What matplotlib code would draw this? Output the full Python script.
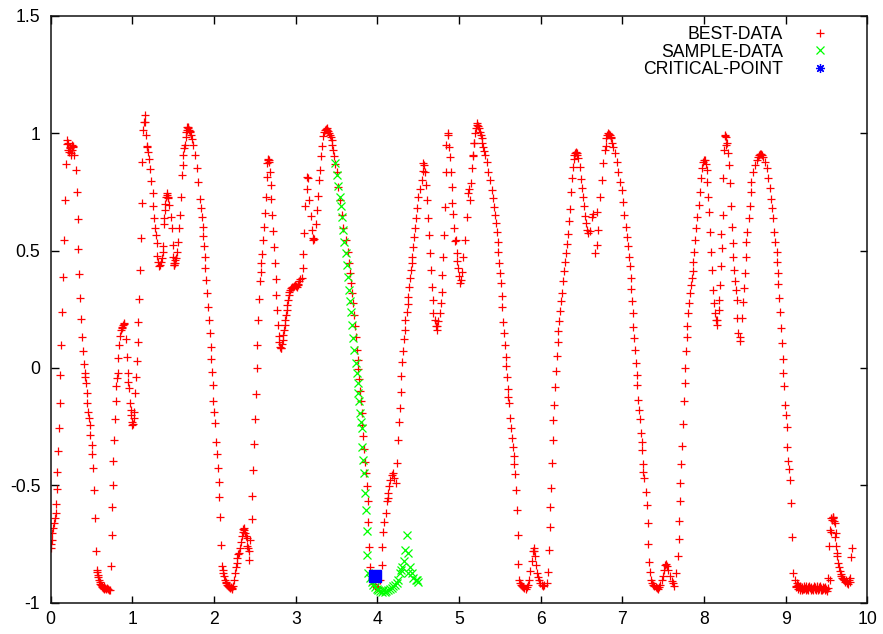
import matplotlib
matplotlib.use("Agg")
import matplotlib.pyplot as plt
from matplotlib.lines import Line2D

plt.rcParams['font.family'] = ['Liberation Sans', 'DejaVu Sans']
plt.rcParams['font.size'] = 12.7

# ---- BEST-DATA, one list of (x, y) points per hump ----
best_a = [(0.004,-0.768),(0.008,-0.752),(0.012,-0.733),(0.020,-0.702),(0.032,-0.680),(0.040,-0.662),
          (0.053,-0.640),(0.061,-0.620),(0.066,-0.580),(0.073,-0.517),(0.081,-0.442),(0.093,-0.355),
          (0.101,-0.257),(0.110,-0.148),(0.118,-0.030),(0.126,0.098),(0.143,0.239),(0.155,0.386),
          (0.167,0.545),(0.175,0.713),(0.183,0.868),(0.196,0.970),(0.204,0.955),(0.212,0.930),
          (0.216,0.956),(0.224,0.920),(0.232,0.935),(0.236,0.942),(0.245,0.905),(0.249,0.914),
          (0.257,0.949),(0.265,0.928),(0.270,0.945),(0.277,0.942),(0.290,0.905),(0.310,0.843),
          (0.322,0.751),(0.330,0.633),(0.338,0.507),(0.347,0.399),(0.355,0.297),(0.371,0.209),
          (0.379,0.131),(0.395,0.070),(0.408,0.016),(0.416,-0.020),(0.424,-0.037),(0.432,-0.065),
          (0.444,-0.108),(0.448,-0.151),(0.461,-0.186),(0.469,-0.215),(0.477,-0.243),(0.485,-0.285),
          (0.501,-0.328),(0.509,-0.366),(0.522,-0.427),(0.530,-0.519),(0.542,-0.640),(0.550,-0.778),
          (0.563,-0.860),(0.567,-0.870),(0.575,-0.881),(0.583,-0.892),(0.591,-0.902),(0.600,-0.911),
          (0.608,-0.919),(0.616,-0.925),(0.624,-0.930),(0.632,-0.933),(0.640,-0.936),(0.650,-0.931),
          (0.657,-0.940),(0.665,-0.937),(0.675,-0.943),(0.685,-0.939),(0.697,-0.941),(0.710,-0.946),
          (0.726,-0.944)]

best_b = [(0.738,-0.843),(0.746,-0.710),(0.754,-0.592),(0.759,-0.497),(0.767,-0.398),(0.775,-0.306),
          (0.787,-0.217),(0.795,-0.140),(0.803,-0.079),(0.812,-0.041),(0.820,-0.020),(0.828,0.041),
          (0.836,0.098),(0.848,0.134),(0.861,0.162),(0.869,0.170),(0.877,0.176),(0.886,0.182),
          (0.894,0.187),(0.902,0.193),(0.918,0.122),(0.930,0.048),(0.943,-0.020),(0.951,-0.060),
          (0.959,-0.084),(0.971,-0.148),(0.979,-0.180),(0.983,-0.201),(0.992,-0.229),(1.000,-0.243),
          (1.008,-0.238),(1.016,-0.215),(1.024,-0.186),(1.032,-0.105),(1.041,-0.040),(1.053,0.031),
          (1.065,0.109),(1.073,0.197),(1.085,0.292),(1.094,0.415),(1.106,0.552),(1.114,0.704),
          (1.122,0.876),(1.134,1.013),(1.143,1.049),(1.154,1.077),(1.160,1.048),(1.166,0.990),
          (1.175,0.942),(1.182,0.946),(1.194,0.918),(1.206,0.889),(1.222,0.846),(1.234,0.797),
          (1.247,0.744),(1.255,0.690),(1.267,0.640),(1.275,0.597),(1.287,0.568),(1.296,0.533),
          (1.304,0.476),(1.316,0.450),(1.329,0.434),(1.337,0.440),(1.345,0.452),(1.358,0.469),
          (1.370,0.495),(1.378,0.519),(1.386,0.615),(1.392,0.640),(1.398,0.671),(1.405,0.700),
          (1.412,0.728),(1.419,0.736),(1.425,0.745),(1.432,0.730),(1.439,0.722),(1.451,0.693),
          (1.468,0.643),(1.480,0.594),(1.492,0.523),(1.500,0.473),(1.505,0.445),(1.509,0.437),
          (1.515,0.440),(1.520,0.448),(1.528,0.458),(1.533,0.466),(1.549,0.494),(1.562,0.536),
          (1.574,0.594),(1.582,0.650),(1.590,0.729),(1.603,0.821),(1.615,0.864),(1.623,0.906),
          (1.636,0.935),(1.644,0.949),(1.652,0.985),(1.658,1.005),(1.664,1.013),(1.670,1.025),
          (1.677,1.022),(1.685,1.027),(1.693,1.015),(1.700,1.010),(1.705,1.006),(1.715,0.990),
          (1.725,0.977)]

best_c = [(1.746,0.950),(1.766,0.907),(1.787,0.850),(1.807,0.793),(1.828,0.718),(1.840,0.680),
          (1.848,0.642),(1.860,0.602),(1.869,0.562),(1.877,0.519),(1.885,0.474),(1.893,0.427),
          (1.901,0.375),(1.909,0.320),(1.922,0.261),(1.934,0.204),(1.950,0.147),(1.958,0.090),
          (1.966,0.036),(1.975,-0.016),(1.983,-0.073),(1.991,-0.141),(1.999,-0.186),(2.011,-0.233),
          (2.024,-0.314),(2.032,-0.366),(2.048,-0.427),(2.056,-0.484),(2.064,-0.548),(2.073,-0.637),
          (2.085,-0.753),(2.097,-0.843),(2.105,-0.860),(2.113,-0.874),(2.122,-0.888),(2.134,-0.902),
          (2.142,-0.910),(2.150,-0.918),(2.162,-0.924),(2.170,-0.928),(2.178,-0.931),(2.187,-0.933),
          (2.195,-0.938),(2.205,-0.935),(2.215,-0.942),(2.225,-0.936),(2.236,-0.928),(2.246,-0.905),
          (2.256,-0.874),(2.266,-0.850),(2.277,-0.831),(2.287,-0.810),(2.297,-0.792),(2.309,-0.789),
          (2.318,-0.765),(2.326,-0.740),(2.338,-0.715),(2.350,-0.697),(2.358,-0.688),(2.366,-0.682),
          (2.372,-0.690),(2.379,-0.703),(2.390,-0.715),(2.399,-0.724),(2.407,-0.760),(2.415,-0.765),
          (2.424,-0.781),(2.432,-0.817),(2.445,-0.735)]

best_d = [(2.460,-0.644),(2.468,-0.545),(2.481,-0.434),(2.489,-0.324),(2.501,-0.219),(2.509,-0.111),
          (2.521,-0.002),(2.530,0.098),(2.542,0.204),(2.550,0.292),(2.562,0.368),(2.570,0.410),
          (2.579,0.446),(2.587,0.486),(2.595,0.543),(2.611,0.598),(2.623,0.659),(2.632,0.727),
          (2.644,0.812),(2.652,0.872),(2.656,0.885),(2.660,0.889),(2.668,0.886),(2.677,0.879),
          (2.685,0.836),(2.693,0.780),(2.701,0.718),(2.709,0.652),(2.725,0.583),(2.738,0.513),
          (2.746,0.446),(2.754,0.378),(2.758,0.311),(2.766,0.247),(2.779,0.183),(2.791,0.134),
          (2.799,0.110),(2.807,0.091),(2.815,0.085),(2.823,0.084),(2.831,0.100),(2.840,0.120),
          (2.848,0.140),(2.856,0.162),(2.864,0.183),(2.872,0.204),(2.880,0.225),(2.889,0.247),
          (2.897,0.270),(2.905,0.290),(2.913,0.310),(2.921,0.325),(2.930,0.333),(2.938,0.339),
          (2.950,0.343),(2.962,0.346),(2.975,0.350),(2.987,0.353),(3.000,0.350),(3.011,0.346),
          (3.022,0.352),(3.032,0.358),(3.042,0.368),(3.052,0.378)]

best_e = [(3.072,0.381),(3.084,0.424),(3.092,0.484),(3.100,0.574),(3.113,0.688),(3.133,0.762),
          (3.141,0.812),(3.153,0.808),(3.166,0.713),(3.182,0.645),(3.195,0.588),(3.210,0.555),
          (3.215,0.545),(3.220,0.548),(3.248,0.614),(3.263,0.671),(3.276,0.731),(3.288,0.802),
          (3.296,0.844),(3.305,0.901),(3.321,0.943),(3.337,0.986),(3.350,1.005),(3.357,1.014),
          (3.365,1.018),(3.378,1.021),(3.388,1.015),(3.398,1.007),(3.408,1.000),(3.419,0.993),
          (3.429,0.982),(3.439,0.972),(3.449,0.950),(3.459,0.929),(3.471,0.901),(3.485,0.868),
          (3.500,0.836),(3.521,0.772),(3.541,0.715),(3.561,0.651),(3.582,0.595),(3.610,0.545),
          (3.635,0.495),(3.652,0.446),(3.664,0.403),(3.676,0.363),(3.692,0.321),(3.704,0.275),
          (3.717,0.226),(3.725,0.179),(3.733,0.131),(3.745,0.077),(3.758,0.034),(3.766,-0.006),
          (3.774,-0.048),(3.786,-0.097),(3.799,-0.143),(3.807,-0.193),(3.815,-0.243),(3.827,-0.292),
          (3.840,-0.346),(3.848,-0.399),(3.856,-0.449),(3.868,-0.502),(3.880,-0.569),(3.889,-0.655),
          (3.897,-0.761),(3.905,-0.846),(3.929,-0.902),(3.950,-0.920),(3.970,-0.930),(3.990,-0.939),
          (4.010,-0.935),(4.030,-0.905)]

best_f = [(4.051,-0.839),(4.059,-0.761),(4.071,-0.697),(4.083,-0.655),(4.100,-0.616),(4.112,-0.569),
          (4.124,-0.555),(4.132,-0.534),(4.140,-0.505),(4.153,-0.477),(4.173,-0.456),(4.193,-0.449),
          (4.206,-0.470),(4.222,-0.491),(4.234,-0.406),(4.255,-0.307),(4.263,-0.229),(4.275,-0.172),
          (4.287,-0.101),(4.295,-0.034),(4.304,0.027),(4.316,0.070),(4.328,0.122),(4.336,0.162),
          (4.344,0.202),(4.357,0.236),(4.369,0.273),(4.377,0.304),(4.385,0.346),(4.398,0.382),
          (4.410,0.417),(4.418,0.446),(4.426,0.474),(4.438,0.516),(4.451,0.559),(4.459,0.594),
          (4.467,0.637),(4.479,0.679),(4.500,0.729),(4.520,0.760),(4.540,0.800),(4.553,0.840),
          (4.561,0.872),(4.565,0.864),(4.581,0.836),(4.593,0.779),(4.602,0.715),(4.622,0.637),
          (4.630,0.566),(4.643,0.488),(4.655,0.417),(4.663,0.346),(4.675,0.290),(4.684,0.233),
          (4.704,0.205),(4.715,0.180),(4.724,0.162),(4.735,0.180),(4.745,0.198),(4.765,0.233),
          (4.777,0.276),(4.785,0.325),(4.793,0.396),(4.806,0.474),(4.818,0.566),(4.826,0.687),
          (4.834,0.836),(4.846,0.950),(4.859,0.992),(4.867,1.000),(4.872,0.942),(4.888,0.898),
          (4.900,0.836),(4.908,0.770),(4.916,0.701),(4.929,0.657),(4.941,0.595),(4.949,0.540),
          (4.957,0.545),(4.969,0.488),(4.980,0.455),(4.990,0.424),(5.000,0.392),(5.010,0.360),
          (5.020,0.375),(5.030,0.410),(5.051,0.474)]

best_g = [(5.071,0.545),(5.092,0.644),(5.112,0.744),(5.120,0.760),(5.132,0.715),(5.144,0.786),
          (5.153,0.850),(5.165,0.901),(5.173,0.907),(5.181,0.958),(5.185,0.957),(5.194,1.000),
          (5.203,1.020),(5.214,1.042),(5.222,1.035),(5.230,1.030),(5.240,1.020),(5.255,1.006),
          (5.265,0.990),(5.275,0.978),(5.285,0.960),(5.296,0.942),(5.306,0.925),(5.316,0.907),
          (5.337,0.879),(5.357,0.836),(5.377,0.800),(5.398,0.758),(5.418,0.722),(5.430,0.687),
          (5.439,0.651),(5.447,0.616),(5.459,0.580),(5.471,0.537),(5.479,0.495),(5.492,0.448),
          (5.500,0.406),(5.512,0.360),(5.520,0.306),(5.528,0.258),(5.541,0.197),(5.553,0.147),
          (5.561,0.098),(5.569,0.048),(5.577,0.006),(5.586,-0.040),(5.594,-0.091),(5.602,-0.122),
          (5.610,-0.151),(5.622,-0.215),(5.635,-0.257),(5.651,-0.300),(5.659,-0.335),(5.667,-0.375),
          (5.675,-0.409),(5.683,-0.452),(5.696,-0.520),(5.704,-0.605),(5.716,-0.711),(5.724,-0.835),
          (5.737,-0.903),(5.747,-0.915),(5.757,-0.924),(5.770,-0.930),(5.786,-0.934),(5.800,-0.938),
          (5.814,-0.942),(5.826,-0.935),(5.839,-0.924),(5.855,-0.902),(5.871,-0.867),(5.888,-0.824),
          (5.900,-0.781),(5.912,-0.767),(5.920,-0.780),(5.929,-0.800),(5.941,-0.838),(5.953,-0.874),
          (5.965,-0.890),(5.978,-0.902),(5.994,-0.915),(6.010,-0.924),(6.025,-0.930),(6.043,-0.924),
          (6.071,-0.917)]

best_h = [(6.092,-0.871),(6.100,-0.777),(6.108,-0.678),(6.116,-0.592),(6.124,-0.511),(6.132,-0.407),
          (6.145,-0.306),(6.153,-0.223),(6.165,-0.157),(6.173,-0.081),(6.181,-0.014),(6.193,0.050),
          (6.206,0.109),(6.214,0.156),(6.226,0.199),(6.234,0.241),(6.242,0.284),(6.255,0.320),
          (6.267,0.369),(6.279,0.412),(6.291,0.451),(6.304,0.488),(6.316,0.526),(6.328,0.569),
          (6.340,0.626),(6.357,0.676),(6.369,0.750),(6.377,0.807),(6.389,0.854),(6.402,0.889),
          (6.410,0.905),(6.418,0.914),(6.428,0.918),(6.438,0.917),(6.448,0.905),(6.459,0.892),
          (6.475,0.854),(6.491,0.804),(6.508,0.765),(6.520,0.726),(6.532,0.690),(6.540,0.648),
          (6.549,0.617),(6.561,0.588),(6.581,0.574),(6.602,0.581),(6.622,0.644),(6.643,0.657),
          (6.663,0.488),(6.684,0.523),(6.684,0.664),(6.704,0.588),(6.723,0.729),(6.744,0.800),
          (6.764,0.871),(6.785,0.928),(6.798,0.943),(6.805,0.978),(6.815,0.990),(6.825,1.000),
          (6.835,0.995),(6.845,0.990),(6.855,0.985),(6.866,0.978),(6.877,0.960),(6.887,0.942),
          (6.907,0.914),(6.928,0.879),(6.948,0.836),(6.968,0.793),(6.989,0.758),(7.001,0.708),
          (7.017,0.651),(7.042,0.602),(7.058,0.559),(7.070,0.519),(7.083,0.474),(7.091,0.434),
          (7.099,0.382),(7.111,0.335),(7.119,0.285),(7.124,0.235),(7.132,0.176),(7.140,0.126),
          (7.152,0.077),(7.164,0.020),(7.173,-0.030),(7.181,-0.073),(7.193,-0.136),(7.205,-0.179),
          (7.213,-0.219),(7.226,-0.278),(7.234,-0.314),(7.242,-0.349),(7.246,-0.409),(7.254,-0.442),
          (7.266,-0.470),(7.287,-0.527),(7.295,-0.584),(7.307,-0.660),(7.315,-0.748),(7.323,-0.826),
          (7.336,-0.869),(7.348,-0.903),(7.360,-0.915),(7.376,-0.924),(7.390,-0.930),(7.409,-0.934),
          (7.420,-0.938),(7.438,-0.942),(7.452,-0.935),(7.466,-0.924),(7.480,-0.905),(7.491,-0.888),
          (7.511,-0.860),(7.527,-0.839),(7.539,-0.835),(7.550,-0.845),(7.560,-0.860),(7.580,-0.888),
          (7.601,-0.909),(7.615,-0.918),(7.629,-0.928)]

best_i = [(7.662,-0.874),(7.683,-0.800),(7.691,-0.729),(7.695,-0.650),(7.703,-0.569),(7.711,-0.491),
          (7.719,-0.410),(7.728,-0.332),(7.744,-0.238),(7.752,-0.143),(7.764,-0.063),(7.772,-0.002),
          (7.776,0.070),(7.785,0.131),(7.793,0.179),(7.805,0.233),(7.817,0.278),(7.825,0.318),
          (7.834,0.353),(7.846,0.382),(7.858,0.414),(7.866,0.453),(7.878,0.495),(7.891,0.545),
          (7.903,0.595),(7.915,0.644),(7.932,0.694),(7.948,0.751),(7.960,0.808),(7.972,0.850),
          (7.989,0.879),(8.000,0.884),(8.009,0.886),(8.020,0.870),(8.030,0.843),(8.038,0.793),
          (8.050,0.729),(8.062,0.666),(8.070,0.580),(8.083,0.495),(8.095,0.417),(8.111,0.332),
          (8.119,0.276),(8.132,0.233),(8.144,0.205),(8.152,0.183),(8.164,0.205),(8.177,0.247),
          (8.185,0.290),(8.193,0.353),(8.201,0.432),(8.210,0.570),(8.214,0.510),(8.226,0.651),
          (8.234,0.808),(8.242,0.928),(8.254,0.987),(8.260,0.992),(8.266,0.984),(8.274,0.950),
          (8.283,0.956),(8.295,0.914),(8.307,0.864),(8.315,0.786),(8.328,0.690),(8.340,0.602),
          (8.348,0.531),(8.356,0.474),(8.369,0.417),(8.381,0.368),(8.389,0.332),(8.397,0.290),
          (8.405,0.212),(8.418,0.148),(8.437,0.130),(8.445,0.115),(8.458,0.211),(8.478,0.282),
          (8.491,0.339),(8.499,0.403),(8.507,0.474),(8.519,0.537),(8.531,0.580),(8.548,0.637),
          (8.560,0.690),(8.572,0.751),(8.580,0.793),(8.601,0.836),(8.621,0.864),(8.642,0.886),
          (8.660,0.900),(8.670,0.907),(8.685,0.910),(8.695,0.911),(8.710,0.905),(8.723,0.900),
          (8.744,0.879),(8.764,0.850),(8.785,0.808),(8.805,0.765),(8.817,0.718),(8.833,0.680),
          (8.846,0.637),(8.858,0.580),(8.874,0.537),(8.887,0.495),(8.895,0.452),(8.899,0.403),
          (8.907,0.357),(8.915,0.296),(8.928,0.239),(8.940,0.168),(8.948,0.104),(8.960,0.040),
          (8.968,-0.023),(8.981,-0.077),(8.989,-0.158),(8.997,-0.201),(9.009,-0.253),(9.021,-0.338),
          (9.030,-0.395),(9.034,-0.432),(9.050,-0.477),(9.062,-0.577),(9.079,-0.722),(9.091,-0.872)]

best_j = [(9.111,-0.903),(9.120,-0.930),(9.127,-0.935),(9.132,-0.917),(9.140,-0.928),(9.148,-0.940),
          (9.155,-0.925),(9.163,-0.933),(9.170,-0.945),(9.178,-0.930),(9.186,-0.938),(9.195,-0.947),
          (9.203,-0.932),(9.211,-0.940),(9.220,-0.928),(9.228,-0.943),(9.236,-0.936),(9.245,-0.948),
          (9.253,-0.931),(9.261,-0.941),(9.270,-0.935),(9.278,-0.946),(9.286,-0.929),(9.295,-0.939),
          (9.303,-0.944),(9.311,-0.932),(9.320,-0.942),(9.328,-0.936),(9.336,-0.948),(9.345,-0.930),
          (9.353,-0.940),(9.361,-0.935),(9.370,-0.945),(9.378,-0.931),(9.386,-0.938),(9.395,-0.947),
          (9.403,-0.933),(9.411,-0.941),(9.420,-0.929),(9.428,-0.944),(9.436,-0.937),(9.445,-0.948),
          (9.453,-0.932),(9.461,-0.941),(9.470,-0.936),(9.478,-0.946),(9.486,-0.933),(9.495,-0.940),
          (9.503,-0.950),(9.511,-0.938),(9.518,-0.896),(9.531,-0.757),(9.539,-0.903),(9.547,-0.690),
          (9.555,-0.700),(9.559,-0.640),(9.567,-0.648),(9.575,-0.640),(9.579,-0.633),(9.584,-0.636),
          (9.592,-0.650),(9.600,-0.720),(9.605,-0.662),(9.612,-0.704),(9.620,-0.760),(9.627,-0.790),
          (9.633,-0.800),(9.641,-0.832),(9.650,-0.850),(9.661,-0.867),(9.670,-0.878),(9.682,-0.888),
          (9.690,-0.895),(9.700,-0.900),(9.714,-0.903),(9.725,-0.910),(9.735,-0.905),(9.745,-0.915),
          (9.755,-0.914),(9.765,-0.920),(9.775,-0.905),(9.784,-0.910),(9.790,-0.895),(9.804,-0.807),
          (9.812,-0.768)]

# ---- SAMPLE-DATA ----
sample_x = [3.480, 3.500, 3.521, 3.541, 3.553, 3.561, 3.582, 3.594, 3.610, 3.623, 3.635, 3.651,
            3.664, 3.676, 3.692, 3.704, 3.717, 3.733, 3.745, 3.758, 3.766, 3.774, 3.786, 3.799,
            3.807, 3.815, 3.827, 3.840, 3.848, 3.856, 3.868, 3.876, 3.889, 3.910, 3.929, 3.950,
            3.970, 3.990, 4.010, 4.030, 4.051, 4.070, 4.092, 4.110, 4.132, 4.150, 4.173, 4.190,
            4.214, 4.235, 4.255, 4.275, 4.290, 4.304, 4.328, 4.336, 4.357, 4.369, 4.377, 4.398,
            4.418, 4.438, 4.467, 4.480, 4.500]
sample_y = [0.872, 0.822, 0.775, 0.730, 0.688, 0.642, 0.588, 0.538, 0.489, 0.439, 0.389, 0.332,
            0.283, 0.240, 0.184, 0.127, 0.077, 0.020, -0.023, -0.065, -0.108, -0.143, -0.193, -0.229,
            -0.257, -0.335, -0.392, -0.449, -0.534, -0.605, -0.693, -0.797, -0.875, -0.895, -0.911, -0.925,
            -0.932, -0.940, -0.946, -0.950, -0.953, -0.948, -0.953, -0.950, -0.946, -0.942, -0.939, -0.930,
            -0.924, -0.915, -0.903, -0.875, -0.860, -0.846, -0.824, -0.775, -0.711, -0.790, -0.875, -0.846,
            -0.875, -0.896, -0.903, -0.903, -0.911]

# ---- CRITICAL-POINT ----
critical_x = [3.970]
critical_y = [-0.886]

xticks = [0, 1, 2, 3, 4, 5, 6, 7, 8, 9, 10]
xtick_labels = ['0', '1', '2', '3', '4', '5', '6', '7', '8', '9', '10']
yticks = [-1, -0.5, 0, 0.5, 1, 1.5]
ytick_labels = ['-1', '-0.5', '0', '0.5', '1', '1.5']

best = best_a + best_b + best_c + best_d + best_e + best_f + best_g + best_h + best_i + best_j
best_x = [p[0] for p in best]
best_y = [p[1] for p in best]

RED, GREEN, BLUE = '#ff0000', '#00ff00', '#0000ff'

fig = plt.figure(figsize=(8.83, 6.34), dpi=100)
ax = fig.add_axes([0.0574, 0.0494, 0.9250, 0.9258])

ax.plot(best_x, best_y, linestyle='none', marker='+', ms=5.8, mew=0.9, color=RED)
ax.plot(sample_x, sample_y, linestyle='none', marker='x', ms=5.2, mew=0.9, color=GREEN)
ax.plot(critical_x, critical_y, linestyle='none', marker='s', ms=8.0, color=BLUE, mec=BLUE)

ax.set_xlim(0, 10)
ax.set_ylim(-1, 1.5)
ax.set_xticks(xticks)
ax.set_xticklabels(xtick_labels)
ax.set_yticks(yticks)
ax.set_yticklabels(ytick_labels)
ax.tick_params(direction='in', top=True, right=True, length=5.4, width=1.0, labelsize=12.7)
ax.tick_params(axis='x', pad=6)
ax.tick_params(axis='y', pad=7.5)
for sp in ax.spines.values():
    sp.set_linewidth(1.1)
    sp.set_color('#111111')

handles = [
    Line2D([], [], linestyle='none', marker='+', ms=5.8, mew=0.9, color=RED),
    Line2D([], [], linestyle='none', marker='x', ms=5.2, mew=0.9, color=GREEN),
    Line2D([], [], linestyle='none', marker=(8, 2, 0), ms=6.5, mew=0.9, color=BLUE),
]
ax.legend(handles, ['BEST-DATA', 'SAMPLE-DATA', 'CRITICAL-POINT'],
          loc='upper right', bbox_to_anchor=(0.9526, 0.982), frameon=False,
          markerfirst=False, handlelength=1.0, handletextpad=1.6, labelspacing=0.02,
          borderaxespad=0, borderpad=0, fontsize=12.7)

fig.savefig('out.png', dpi=100)
